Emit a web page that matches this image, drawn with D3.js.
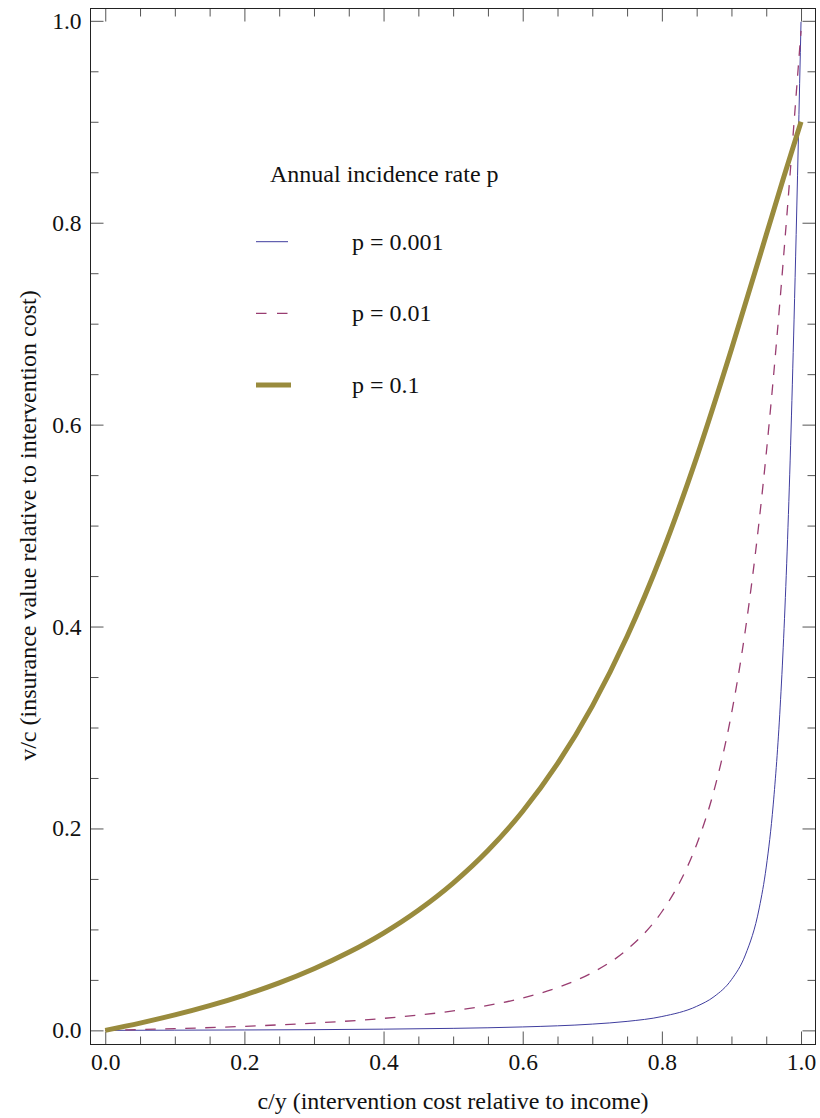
<!DOCTYPE html>
<html lang="en">
<head>
  <meta charset="UTF-8">
  <title>Insurance value vs intervention cost</title>
  <script src="https://d3js.org/d3.v7.min.js"></script>
  <style>
    body { margin: 0; background: #fff; }
    text { font-family: "Liberation Serif", "Times New Roman", serif; fill: #111; }
  </style>
</head>
<body>
  <div id="chart"></div>
  <script>
    // values
    const lowX  = [0, 0.1, 0.2, 0.3, 0.4, 0.5, 0.6, 0.7, 0.75, 0.8, 0.85, 0.875, 0.9, 0.92, 0.94, 0.95, 0.96, 0.97, 0.975, 0.98, 0.985, 0.99, 0.993, 0.995, 0.997, 0.999, 1];
    const lowY  = [0, 0.0002, 0.0004, 0.0007, 0.0012, 0.0020, 0.0034, 0.0062, 0.0089, 0.0137, 0.0238, 0.0334, 0.0502, 0.0747, 0.1213, 0.1617, 0.2233, 0.3202, 0.3884, 0.4739, 0.5791, 0.7045, 0.7884, 0.8471, 0.9073, 0.9684, 0.9990];

    const midX  = [0, 0.1, 0.2, 0.3, 0.4, 0.5, 0.6, 0.65, 0.7, 0.75, 0.8, 0.825, 0.85, 0.875, 0.9, 0.92, 0.94, 0.95, 0.96, 0.97, 0.98, 0.99, 0.995, 1];
    const midY  = [0, 0.0017, 0.0040, 0.0072, 0.0119, 0.0193, 0.0321, 0.0423, 0.0572, 0.0800, 0.1175, 0.1457, 0.1842, 0.2377, 0.3135, 0.3966, 0.5058, 0.5714, 0.6445, 0.7246, 0.8103, 0.8996, 0.9448, 0.9900];

    const highX = [0, 0.05, 0.1, 0.15, 0.2, 0.25, 0.3, 0.35, 0.4, 0.45, 0.5, 0.55, 0.6, 0.65, 0.7, 0.75, 0.8, 0.85, 0.9, 0.95, 0.975, 1];
    const highY = [0, 0.0072, 0.0153, 0.0245, 0.0350, 0.0470, 0.0610, 0.0773, 0.0964, 0.1190, 0.1459, 0.1781, 0.2170, 0.2641, 0.3212, 0.3901, 0.4721, 0.5676, 0.6746, 0.7880, 0.8448, 0.9000];

    const seriesNames = ["p = 0.001", "p = 0.01", "p = 0.1"];
    const majorTicks = [0, 0.2, 0.4, 0.6, 0.8, 1.0];

    const width = 820, height = 1118;
    const frame = { left: 90.5, right: 815.5, top: 8.5, bottom: 1044.5 };

    const series = [
      { name: seriesNames[0], xs: lowX,  ys: lowY,  color: "#3f3d9e", width: 1,   dash: null },
      { name: seriesNames[1], xs: midX,  ys: midY,  color: "#993d71", width: 1.3, dash: "10.5,9.5" },
      { name: seriesNames[2], xs: highX, ys: highY, color: "#998b3d", width: 5,   dash: null }
    ];

    const svg = d3.select("#chart")
      .append("svg")
      .attr("width", width)
      .attr("height", height);

    const x = d3.scaleLinear()
      .domain([-0.0212, 1.0208])
      .range([frame.left, frame.right]);

    const y = d3.scaleLinear()
      .domain([-0.0140, 1.0122])
      .range([frame.bottom, frame.top]);

    const minorTicks = d3.range(0, 1.0001, 0.05)
      .filter(v => Math.abs(v * 5 - Math.round(v * 5)) > 1e-6);

    // frame ticks, pointing inward on all four sides
    function ticks(axis, transform, values, size, labels) {
      const g = svg.append("g")
        .attr("transform", transform)
        .call(axis.tickValues(values).tickSize(size).tickPadding(9)
          .tickFormat(labels ? d3.format(".1f") : ""));
      g.select(".domain").remove();
      g.selectAll("line").attr("stroke", "#555");
      g.selectAll("text").attr("font-size", "23.5px").attr("fill", "#111");
    }

    ticks(d3.axisBottom(x), `translate(0,${frame.bottom})`, majorTicks, -13, true);
    ticks(d3.axisBottom(x), `translate(0,${frame.bottom})`, minorTicks, -8, false);
    ticks(d3.axisTop(x), `translate(0,${frame.top})`, majorTicks, -13, false);
    ticks(d3.axisTop(x), `translate(0,${frame.top})`, minorTicks, -8, false);
    ticks(d3.axisLeft(y), `translate(${frame.left},0)`, majorTicks, -13, true);
    ticks(d3.axisLeft(y), `translate(${frame.left},0)`, minorTicks, -8, false);
    ticks(d3.axisRight(y), `translate(${frame.right},0)`, majorTicks, -13, false);
    ticks(d3.axisRight(y), `translate(${frame.right},0)`, minorTicks, -8, false);

    svg.append("clipPath")
      .attr("id", "plotClip")
      .append("rect")
      .attr("x", frame.left)
      .attr("y", frame.top)
      .attr("width", frame.right - frame.left)
      .attr("height", frame.bottom - frame.top);

    const line = d3.line()
      .x(d => x(d[0]))
      .y(d => y(d[1]))
      .curve(d3.curveMonotoneX);

    svg.append("g")
      .attr("clip-path", "url(#plotClip)")
      .selectAll("path")
      .data(series)
      .enter()
      .append("path")
      .attr("d", s => line(s.xs.map((v, i) => [v, s.ys[i]])))
      .attr("fill", "none")
      .attr("stroke", s => s.color)
      .attr("stroke-width", s => s.width)
      .attr("stroke-dasharray", s => s.dash);

    svg.append("rect")
      .attr("x", frame.left)
      .attr("y", frame.top)
      .attr("width", frame.right - frame.left)
      .attr("height", frame.bottom - frame.top)
      .attr("fill", "none")
      .attr("stroke", "#222")
      .attr("stroke-width", 1);

    // axis labels
    svg.append("text")
      .attr("x", (frame.left + frame.right) / 2)
      .attr("y", 1109)
      .attr("text-anchor", "middle")
      .attr("font-size", "24px")
      .text("c/y (intervention cost relative to income)");

    svg.append("text")
      .attr("transform", `translate(36,${(y(0) + y(1)) / 2}) rotate(-90)`)
      .attr("text-anchor", "middle")
      .attr("font-size", "24px")
      .text("v/c (insurance value relative to intervention cost)");

    // legend
    const legend = svg.append("g");

    legend.append("text")
      .attr("x", 270)
      .attr("y", 181.7)
      .attr("font-size", "24px")
      .text("Annual incidence rate p");

    const rows = legend.selectAll(".row")
      .data(series)
      .enter()
      .append("g")
      .attr("class", "row")
      .attr("transform", (d, i) => `translate(0,${241.7 + i * 71.6})`);

    rows.append("line")
      .attr("x1", 256)
      .attr("x2", (d, i) => i === 2 ? 291 : 288)
      .attr("stroke", d => d.color)
      .attr("stroke-width", d => d.width)
      .attr("stroke-dasharray", d => d.dash ? "10.5,10.5" : null);

    rows.append("text")
      .attr("x", 352)
      .attr("y", 7.8)
      .attr("font-size", "24px")
      .text(d => d.name);
  </script>
</body>
</html>
